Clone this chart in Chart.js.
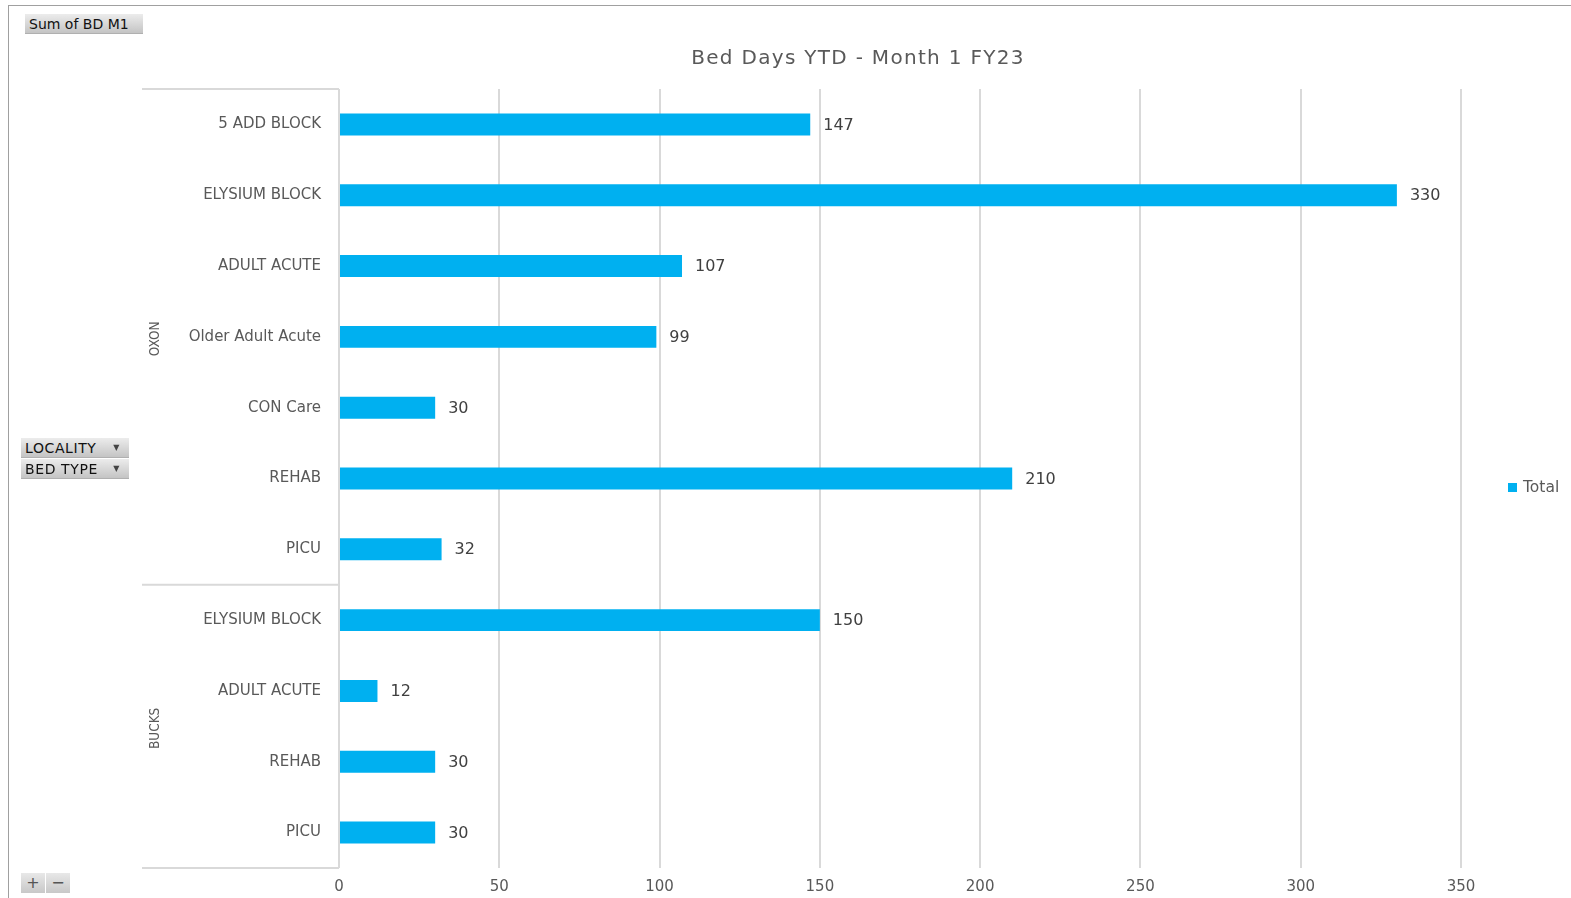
<!DOCTYPE html>
<html>
<head>
<meta charset="utf-8">
<script src="https://cdn.jsdelivr.net/npm/chart.js@4/dist/chart.umd.min.js"></script>
<style>
  html, body { margin: 0; padding: 0; background: #fff; width: 1571px; height: 898px; overflow: hidden; }
  #wrap { position: relative; width: 1571px; height: 898px; }
  canvas { position: absolute; left: 0; top: 0; }
  .frameL { position: absolute; left: 8px; top: 5px; width: 1px; height: 893px; background: #a0a0a0; }
  .frameT { position: absolute; left: 8px; top: 5px; width: 1563px; height: 1px; background: #a0a0a0; }
  .btn { position: absolute; box-sizing: border-box; font-family: "DejaVu Sans", Verdana, sans-serif; font-size: 14px; color: #111;
         background: linear-gradient(#ececec, #c4c4c4); border-bottom: 1px solid #b0b0b0; line-height: 20px; padding-left: 4px; white-space: nowrap; }
  .btn .arr { position: absolute; right: 9px; top: 0; font-size: 8px; color: #444; }
  .pm { position: absolute; box-sizing: border-box; width: 24px; height: 20px; background: linear-gradient(#e8e8e8, #c8c8c8);
        font-family: "DejaVu Sans", sans-serif; font-size: 16px; color: #555; text-align: center; line-height: 19px; }
</style>
</head>
<body>
<div id="wrap">
  <canvas id="c" width="1571" height="898"></canvas>
  <div class="frameL"></div>
  <div class="frameT"></div>
  <div class="btn" style="left:25px;top:14px;width:118px;height:20px;">Sum of BD M1</div>
  <div class="btn" style="left:21px;top:438px;width:108px;height:20px;letter-spacing:0.6px;">LOCALITY<span class="arr">&#9660;</span></div>
  <div class="btn" style="left:21px;top:459px;width:108px;height:20px;letter-spacing:0.6px;">BED TYPE<span class="arr">&#9660;</span></div>
  <div class="pm" style="left:21px;top:873px;">+</div>
  <div class="pm" style="left:46px;top:873px;">&#8722;</div>
</div>
<script>
// ---- data ----
const categories = ['5 ADD BLOCK', 'ELYSIUM BLOCK', 'ADULT ACUTE', 'Older Adult Acute', 'CON Care', 'REHAB', 'PICU',
                    'ELYSIUM BLOCK', 'ADULT ACUTE', 'REHAB', 'PICU'];
const totals = [147, 330, 107, 99, 30, 210, 32, 150, 12, 30, 30];
const groupNames = ['OXON', 'BUCKS'];
const groupSizes = [7, 4];
const seriesName = 'Total';
const chartTitle = 'Bed Days YTD - Month 1 FY23';
const xTicks = [0, 50, 100, 150, 200, 250, 300, 350];

const BAR = '#00B0F0';
const GRID = '#d9d9d9';
const TXT = '#595959';

const overlay = {
  id: 'overlay',
  afterDatasetsDraw(chart) {
    const ctx = chart.ctx;
    const meta = chart.getDatasetMeta(0);
    ctx.save();
    ctx.font = '16px "DejaVu Sans", sans-serif';
    ctx.fillStyle = '#404040';
    ctx.textAlign = 'left';
    ctx.textBaseline = 'middle';
    meta.data.forEach((bar, i) => {
      ctx.fillText(String(chart.data.datasets[0].data[i]), bar.x + 13, bar.y + 1);
    });
    ctx.restore();
  },
  afterDraw(chart) {
    const ctx = chart.ctx;
    const ca = chart.chartArea;
    const ys = chart.scales.y;
    ctx.save();
    // title
    ctx.font = '20px "DejaVu Sans", sans-serif';
    ctx.fillStyle = TXT;
    ctx.textAlign = 'center';
    ctx.textBaseline = 'middle';
    try { ctx.letterSpacing = '1.3px'; } catch (e) {}
    ctx.fillText(chartTitle, 858, 59);
    try { ctx.letterSpacing = '0px'; } catch (e) {}
    // group separators and labels
    ctx.strokeStyle = GRID;
    ctx.lineWidth = 2;
    const x0 = 142;
    const bounds = [ca.top];
    let idx = 0;
    groupSizes.forEach((n) => {
      idx += n;
      if (idx < categories.length) {
        bounds.push((ys.getPixelForValue(idx - 1) + ys.getPixelForValue(idx)) / 2);
      } else {
        bounds.push(ca.bottom);
      }
    });
    bounds.forEach(b => {
      ctx.beginPath();
      ctx.moveTo(x0, b);
      ctx.lineTo(ca.left, b);
      ctx.stroke();
    });
    ctx.font = '13.5px "Liberation Sans Narrow", "DejaVu Sans Condensed", sans-serif';
    ctx.fillStyle = TXT;
    let start = 0;
    groupNames.forEach((g, gi) => {
      const end = start + groupSizes[gi] - 1;
      const yc = (ys.getPixelForValue(start) + ys.getPixelForValue(end)) / 2;
      ctx.save();
      ctx.translate(155, yc + 2);
      ctx.rotate(-Math.PI / 2);
      ctx.textAlign = 'center';
      ctx.textBaseline = 'middle';
      ctx.fillText(g, 0, 0);
      ctx.restore();
      start = end + 1;
    });
    // legend
    ctx.fillStyle = BAR;
    ctx.fillRect(1508, 483, 9, 9);
    ctx.font = '15.5px "DejaVu Sans", sans-serif';
    ctx.fillStyle = TXT;
    ctx.textAlign = 'left';
    ctx.textBaseline = 'middle';
    ctx.fillText(chart.data.datasets[0].label, 1523, 488);
    ctx.restore();
  }
};

new Chart(document.getElementById('c'), {
  type: 'bar',
  data: {
    labels: categories,
    datasets: [{
      label: seriesName,
      data: totals,
      backgroundColor: BAR,
      borderWidth: 0,
      barPercentage: 0.31,
      categoryPercentage: 1.0
    }]
  },
  options: {
    indexAxis: 'y',
    responsive: false,
    animation: false,
    devicePixelRatio: 1,
    layout: { padding: { left: 0, right: 110, top: 89, bottom: 0 } },
    plugins: {
      legend: { display: false },
      title: { display: false },
      tooltip: { enabled: false }
    },
    scales: {
      y: {
        type: 'category',
        afterFit: s => { s.width = 339; },
        grid: { display: false, drawTicks: false },
        border: { display: false },
        ticks: { color: TXT, font: { family: '"DejaVu Sans", sans-serif', size: 15 }, padding: 18, autoSkip: false }
      },
      x: {
        min: xTicks[0],
        max: xTicks[xTicks.length - 1],
        afterBuildTicks: s => { s.ticks = xTicks.map(v => ({ value: v })); },
        afterFit: s => { s.height = 30; },
        grid: { color: GRID, lineWidth: 2, drawTicks: false },
        border: { display: false },
        ticks: { color: TXT, font: { family: '"DejaVu Sans", sans-serif', size: 15 }, padding: 10 }
      }
    }
  },
  plugins: [overlay]
});
</script>
</body>
</html>
